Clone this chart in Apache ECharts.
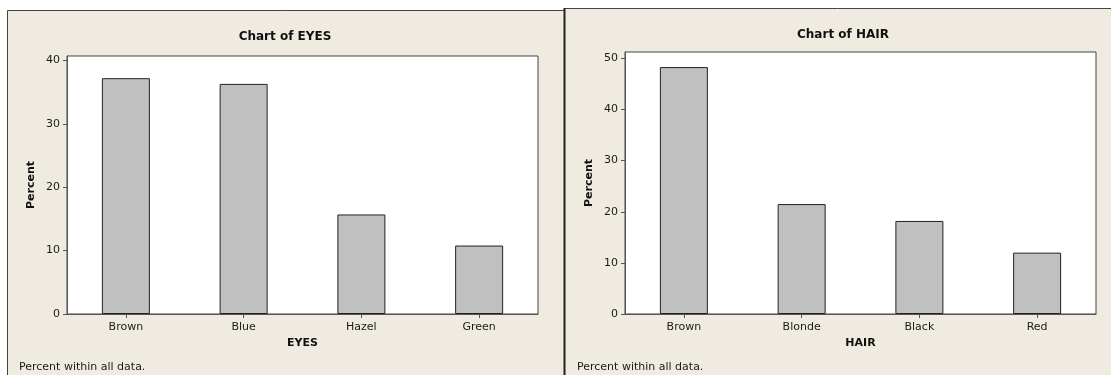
<!DOCTYPE html>
<html><head><meta charset="utf-8">
<script src="https://cdn.jsdelivr.net/npm/echarts@6/dist/echarts.min.js"></script>
<style>html,body{margin:0;padding:0;background:#fff}#c{width:1111px;height:375px}</style>
</head><body><div id="c"></div>
<script>
const eyeCategories = ['Brown', 'Blue', 'Hazel', 'Green'];
const eyePercent = [37.2, 36.3, 15.7, 10.8];
const hairCategories = ['Brown', 'Blonde', 'Black', 'Red'];
const hairPercent = [48.3, 21.5, 18.2, 12.0];
const eyeTicks = [0, 10, 20, 30, 40];
const hairTicks = [0, 10, 20, 30, 40, 50];

const FONT = '"DejaVu Sans", Verdana, sans-serif';
const BG = '#EFEBE1';
const chart = echarts.init(document.getElementById('c'), null, {renderer: 'canvas'});

function yAxis(idx, max, ticks) {
  return {
    type: 'value', gridIndex: idx, min: 0, max: max, interval: 10,
    name: 'Percent', nameLocation: 'middle', nameGap: 30,
    nameTextStyle: {fontFamily: FONT, fontWeight: 'bold', fontSize: 11, color: '#111'},
    axisLine: {show: true, lineStyle: {color: '#555', width: 1}},
    axisTick: {show: true, length: 4, customValues: ticks, lineStyle: {color: '#555'}},
    axisLabel: {customValues: ticks, fontFamily: FONT, fontSize: 11, color: '#1a1a1a', margin: 7},
    splitLine: {show: false}
  };
}
function xAxis(idx, cats, name) {
  return {
    type: 'category', gridIndex: idx, data: cats,
    name: name, nameLocation: 'middle', nameGap: 23,
    nameTextStyle: {fontFamily: FONT, fontWeight: 'bold', fontSize: 11, color: '#111'},
    axisLine: {show: true, lineStyle: {color: '#555', width: 1}},
    axisTick: {show: true, alignWithLabel: true, length: 4, lineStyle: {color: '#555'}},
    axisLabel: {fontFamily: FONT, fontSize: 11, color: '#1a1a1a', margin: 8},
    splitLine: {show: false}
  };
}
function bars(idx, data) {
  return {
    type: 'bar', xAxisIndex: idx, yAxisIndex: idx, data: data, barWidth: 48,
    itemStyle: {color: '#C0C0C0', borderColor: '#222', borderWidth: 1},
    silent: true, animation: false
  };
}

const option = {
  animation: false,
  backgroundColor: '#fff',
  graphic: [
    {type: 'rect', z: -10, shape: {x: 7, y: 10, width: 557, height: 380}, style: {fill: BG}},
    {type: 'rect', z: -10, shape: {x: 564, y: 8, width: 560, height: 380}, style: {fill: BG}},
    {type: 'line', z: -5, shape: {x1: 7.5, y1: 10.5, x2: 564, y2: 10.5}, style: {stroke: '#444', lineWidth: 1}},
    {type: 'line', z: -5, shape: {x1: 7.5, y1: 10.5, x2: 7.5, y2: 380}, style: {stroke: '#444', lineWidth: 1}},
    {type: 'line', z: -5, shape: {x1: 564, y1: 8.5, x2: 1111, y2: 8.5}, style: {stroke: '#444', lineWidth: 1}},
    {type: 'line', z: -5, shape: {x1: 564.5, y1: 8, x2: 564.5, y2: 380}, style: {stroke: '#222', lineWidth: 2}},
    {type: 'text', x: 285, y: 37, style: {text: 'Chart of EYES', font: 'bold 12px ' + FONT, fill: '#111', textAlign: 'center', textVerticalAlign: 'middle'}},
    {type: 'text', x: 843, y: 35, style: {text: 'Chart of HAIR', font: 'bold 12px ' + FONT, fill: '#111', textAlign: 'center', textVerticalAlign: 'middle'}},
    {type: 'text', x: 19, y: 367, style: {text: 'Percent within all data.', font: '11px ' + FONT, fill: '#1a1a1a', textAlign: 'left', textVerticalAlign: 'middle'}},
    {type: 'text', x: 577, y: 367, style: {text: 'Percent within all data.', font: '11px ' + FONT, fill: '#1a1a1a', textAlign: 'left', textVerticalAlign: 'middle'}}
  ],
  grid: [
    {left: 67, top: 56, width: 471, height: 258, show: true, backgroundColor: '#fff', borderColor: '#444', borderWidth: 1},
    {left: 625, top: 52, width: 471, height: 262, show: true, backgroundColor: '#fff', borderColor: '#444', borderWidth: 1}
  ],
  xAxis: [xAxis(0, eyeCategories, 'EYES'), xAxis(1, hairCategories, 'HAIR')],
  yAxis: [yAxis(0, 40.7, eyeTicks), yAxis(1, 51.25, hairTicks)],
  series: [bars(0, eyePercent), bars(1, hairPercent)]
};
chart.setOption(option);
</script>
</body></html>
